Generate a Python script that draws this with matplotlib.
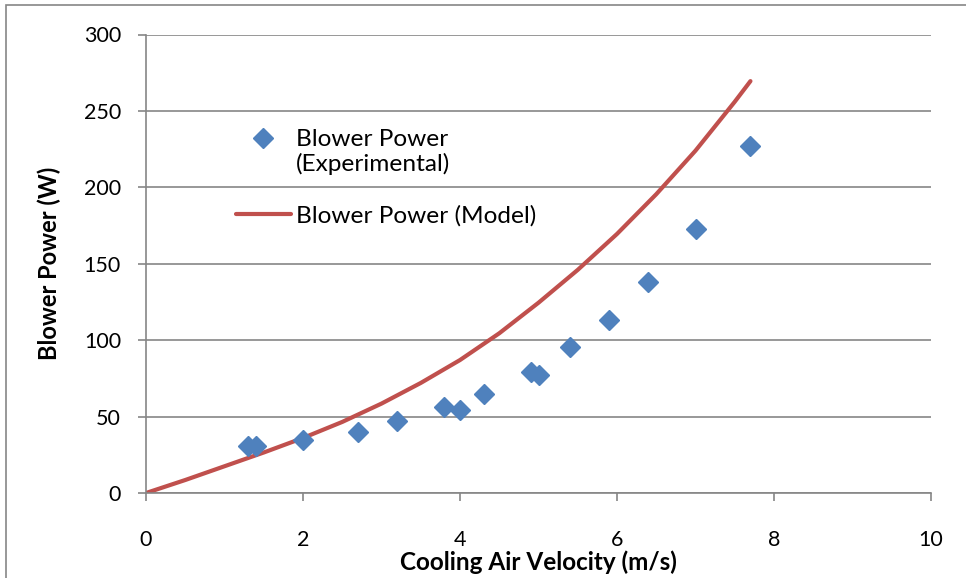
import matplotlib.pyplot as plt
import numpy as np
from matplotlib.legend_handler import HandlerLine2D
from matplotlib.patches import Rectangle

plt.rcParams['font.family'] = ['Lato', 'DejaVu Sans']

# experimental points
vel_exp = [1.3, 1.4, 2.0, 2.7, 3.2, 3.8, 4.0, 4.3, 4.9, 5.0, 5.4, 5.9, 6.4, 7.0, 7.7]
pow_exp = [31, 30.5, 35, 40, 47, 56, 54.5, 65, 79, 77.5, 95.5, 113.5, 138, 173, 227]

# model curve, sampled from the drawn line
vel_model = [0, 0.5, 1.0, 1.5, 2.0, 2.5, 3.0, 3.5, 4.0, 4.5, 5.0, 5.5, 6.0, 6.5, 7.0, 7.5, 7.7]
pow_model = [0, 8.5, 17.5, 26.5, 36, 46.5, 58.5, 72, 87, 104.5, 124.5, 146, 169.5, 195.5, 224, 256, 269.5]

xticks = [0, 2, 4, 6, 8, 10]
yticks = [0, 50, 100, 150, 200, 250, 300]

grey = '#868686'
blue = '#4F81BD'
red = '#C0504D'


class TopAlignedHandler(HandlerLine2D):
    # put the marker beside the first line of a two-line label
    def create_artists(self, legend, orig_handle, xdescent, ydescent,
                       width, height, fontsize, trans):
        arts = super().create_artists(legend, orig_handle, xdescent, ydescent,
                                      width, height, fontsize, trans)
        for a in arts:
            a.set_ydata(np.asarray(a.get_ydata()) + 0.58 * fontsize)
        return arts


fig = plt.figure(figsize=(9.66, 5.78), dpi=100)
ax = fig.add_axes([146 / 966, 85 / 578, 785 / 966, 458.5 / 578])

pts, = ax.plot(vel_exp, pow_exp, linestyle='none', marker='D', markersize=10.5,
               color=blue, label='Blower Power\n(Experimental)', zorder=3)
mdl, = ax.plot(vel_model, pow_model, color=red, linewidth=3,
               solid_capstyle='round', label='Blower Power (Model)', zorder=2)

ax.set_xlim(0, 10)
ax.set_ylim(0, 300)
ax.set_xticks(xticks)
ax.set_yticks(yticks)

ax.grid(axis='y', color=grey, linewidth=1.2)
ax.set_axisbelow(True)
for side in ['top', 'right']:
    ax.spines[side].set_visible(False)
for side in ['left', 'bottom']:
    ax.spines[side].set_color(grey)
    ax.spines[side].set_linewidth(1.2)

ax.tick_params(axis='both', colors=grey, labelcolor='black', labelsize=15.5,
               length=6, width=1.2, direction='out')
ax.tick_params(axis='x', pad=21)
ax.tick_params(axis='y', pad=12)

ax.set_xlabel('Cooling Air Velocity (m/s)', fontsize=17.5, fontweight='bold',
              labelpad=0)
ax.set_ylabel('Blower Power (W)', fontsize=17, fontweight='bold', labelpad=16)

ax.legend(handles=[pts, mdl], loc='upper left', bbox_to_anchor=(0.102, 0.816),
          borderaxespad=0, frameon=False, fontsize=17.6, handlelength=2.25,
          handletextpad=0.2, labelspacing=1.2,
          handler_map={pts: TopAlignedHandler()})

# outer chart border
fig.patches.append(Rectangle((6 / 966, -0.1), 2, (573 / 578) + 0.1,
                             transform=fig.transFigure, fill=False,
                             edgecolor=grey, linewidth=1.2))

fig.savefig('out.png', dpi=100)
